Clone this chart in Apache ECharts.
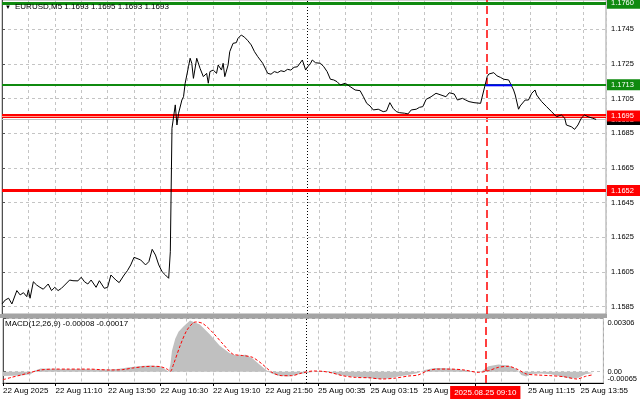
<!DOCTYPE html>
<html><head><meta charset="utf-8">
<script src="https://cdn.jsdelivr.net/npm/echarts@6/dist/echarts.min.js"></script>
<style>html,body{margin:0;padding:0;background:#fff}#c{width:640px;height:401px}</style>
</head><body><div id="c"></div>
<script>
// ---- data (bar index = M5 bar counted from 22 Aug 08:30) ----
const symbolName = 'EURUSD,M5';
const ohlc = [1.1693, 1.1695, 1.1693, 1.1693];

const priceBars = [0,2,4,6,9,11,13,15,16,17,19,21,23,25,28,30,32,34,36,38,41,43,46,48,50,52,54,57,59,62,64,66,69,71,74,76,78,80,84,87,89,91,93,95,97,99,101,102,103,105,106,107,109,110,111,113,114,115,116,118,120,122,124,125,126,128,130,131,133,134,135,137,138,140,142,143,145,147,149,151,153,155,156,158,161,163,165,167,169,171,173,175,177,179,182,184,185,187,188,190,193,195,197,199,201,203,205,208,211,214,217,219,221,223,225,228,231,233,235,237,239,241,244,246,248,251,253,255,257,260,263,266,269,271,274,276,279,281,283,286,290,292,294,295,296,298,300,302,304,307,308,310,311,313,314,317,319,321,323,324,327,330,333,336,339,341,342,345,347,349,351,353,355,358,360];
const priceValues = [1.15866,1.15889,1.15899,1.15866,1.15943,1.15918,1.15931,1.15908,1.15947,1.15899,1.15994,1.15975,1.15962,1.15951,1.15981,1.15943,1.15962,1.15943,1.15956,1.15975,1.16004,1.16000,1.15999,1.16020,1.15994,1.15981,1.16004,1.15962,1.16000,1.15956,1.15962,1.16033,1.16004,1.15989,1.16033,1.16058,1.16091,1.16135,1.16120,1.16091,1.16110,1.16181,1.16148,1.16091,1.16052,1.16033,1.16014,1.16167,1.16879,1.17014,1.16898,1.16966,1.17042,1.17061,1.17139,1.17234,1.17283,1.17254,1.17167,1.17283,1.17225,1.17177,1.17196,1.17139,1.17206,1.17215,1.17196,1.17244,1.17215,1.17254,1.17177,1.17244,1.17321,1.17369,1.17373,1.17398,1.17417,1.17404,1.17384,1.17360,1.17321,1.17292,1.17283,1.17254,1.17196,1.17191,1.17206,1.17200,1.17211,1.17206,1.17219,1.17215,1.17231,1.17234,1.17273,1.17215,1.17231,1.17254,1.17273,1.17257,1.17254,1.17234,1.17206,1.17162,1.17158,1.17148,1.17129,1.17139,1.17119,1.17100,1.17096,1.17061,1.17023,1.17008,1.16985,1.16989,1.16975,1.16979,1.17027,1.16994,1.16975,1.16969,1.16966,1.16962,1.16985,1.16989,1.17000,1.17004,1.17046,1.17061,1.17081,1.17071,1.17061,1.17084,1.17077,1.17042,1.17052,1.17042,1.17033,1.17027,1.17023,1.17100,1.17177,1.17192,1.17187,1.17200,1.17181,1.17173,1.17162,1.17158,1.17139,1.17100,1.17071,1.16989,1.17008,1.17042,1.17042,1.17081,1.17100,1.17071,1.17033,1.17004,1.16975,1.16946,1.16956,1.16937,1.16898,1.16888,1.16873,1.16898,1.16937,1.16956,1.16946,1.16937,1.16930];

const macdBars = [0,11,17,19,23,35,47,59,65,71,77,84,90,96,99,101,102,103,105,107,110,114,115,120,126,132,138,142,148,152,156,160,163,168,174,180,187,193,199,205,213,221,229,235,241,247,253,257,263,269,275,281,288,292,296,302,308,313,316,319,322,328,334,340,346,351,355,360];
const macdValues = [-0.00025,-0.00022,-0.00015,0.00005,0.00018,0.00015,0.00015,0.00012,0.00012,0.00017,0.00025,0.00033,0.00035,0.00030,0.00012,0.00000,0.00040,0.00120,0.00190,0.00230,0.00260,0.00295,0.00290,0.00272,0.00215,0.00151,0.00108,0.00093,0.00097,0.00077,0.00044,0.00012,-0.00008,-0.00023,-0.00027,-0.00015,-0.00004,0.00004,-0.00004,-0.00019,-0.00029,-0.00035,-0.00042,-0.00039,-0.00027,-0.00019,-0.00008,0.00010,0.00021,0.00021,0.00015,0.00010,0.00000,0.00004,0.00031,0.00041,0.00035,0.00015,-0.00019,-0.00027,-0.00013,-0.00010,-0.00015,-0.00027,-0.00039,-0.00035,-0.00015,-0.00008];

const signalBars = [0,5,11,17,23,31,39,47,53,59,65,73,79,86,92,96,100,102,104,108,112,116,118,122,128,134,140,146,152,158,164,170,176,182,189,195,201,207,215,223,231,239,247,253,259,265,273,281,290,296,302,308,314,319,326,334,342,350,355,360];
const signalValues = [-0.00046,-0.00033,-0.00019,-0.00004,0.00010,0.00015,0.00015,0.00015,0.00015,0.00012,0.00010,0.00012,0.00021,0.00029,0.00031,0.00029,0.00015,0.00002,0.00044,0.00150,0.00237,0.00282,0.00286,0.00276,0.00224,0.00160,0.00102,0.00093,0.00083,0.00044,-0.00004,-0.00023,-0.00023,-0.00008,0.00004,0.00002,-0.00008,-0.00023,-0.00033,-0.00035,-0.00042,-0.00037,-0.00025,-0.00019,0.00006,0.00015,0.00015,0.00010,-0.00004,0.00006,0.00025,0.00031,0.00012,-0.00013,-0.00019,-0.00023,-0.00029,-0.00042,-0.00027,-0.00017];

const timeTickBars = [0,32,64,96,128,160,192,224,256,288,320,352];
const timeTickLabels = ['22 Aug 2025','22 Aug 11:10','22 Aug 13:50','22 Aug 16:30','22 Aug 19:10','22 Aug 21:50','25 Aug 00:35','25 Aug 03:15','25 Aug 05:55','','25 Aug 11:15','25 Aug 13:55'];
const priceTicks = [1.1585,1.1605,1.1625,1.1645,1.1665,1.1685,1.1705,1.1725,1.1745];
const macdTicks = [0, 0.00306];
const macdTickLabels = ['0.00', '0.00306'];
const macdMinTick = -0.00065;
const macdMinLabel = '-0.00065';

const resistanceLevels = [1.1760, 1.1713];
const supportLevels = [1.1695, 1.1652];
const bidPrice = 1.1693;
const blueLineBars = [293, 309];
const blueLineValue = 1.17127;
const dayBreakBar = 185;
const eventBar = 294;
const eventLabel = '2025.08.25 09:10';

// ---- chart ----
const FONT = '"Liberation Sans", Arial, sans-serif';
const GREEN = '#0f8a0f', RED = '#ff0000';
const zip = (a, b) => a.map((x, i) => [x, b[i]]);
const levelLabel = (bg, txt) => ({show:true, position:'end', distance:1, formatter: txt,
  color:'#fff', backgroundColor:bg, padding:[2,8,1,4], fontSize:7.5, fontFamily:FONT});
const dashGrid = {show:true, lineStyle:{color:'#c4c4c4', type:[3,3], width:1}};

const vLines = (withLabel) => [
  {xAxis: dayBreakBar, lineStyle:{color:'#000', type:[1,2], width:1}, label:{show:false}},
  {xAxis: eventBar, lineStyle:{color:RED, type:[8,4], width:1.5},
   label: withLabel ? {show:true, position:'start', distance:3, formatter:eventLabel, color:'#fff',
     backgroundColor:RED, padding:[3,4,2,4], fontSize:8, fontFamily:FONT} : {show:false}}
];

const option = {
  animation:false,
  backgroundColor:'#fff',
  grid:[
    {left:2, right:34, top:0, height:314, show:true, borderColor:'#a0a0a0', borderWidth:1},
    {left:2, right:34, top:318.5, height:64.5, show:true, borderColor:'#a0a0a0', borderWidth:1}
  ],
  xAxis:[
    {type:'value', gridIndex:0, min:0, max:366, interval:16, position:'bottom',
     axisLine:{show:false}, axisTick:{show:false}, axisLabel:{show:false}, splitLine:dashGrid},
    {type:'value', gridIndex:1, min:0, max:366, interval:16, position:'bottom',
     axisLine:{show:true, onZero:false, lineStyle:{color:'#000'}}, axisTick:{show:false}, axisLabel:{show:false}, splitLine:dashGrid},
    {type:'value', gridIndex:1, min:0, max:366, position:'bottom',
     axisLine:{show:false, onZero:false},
     axisTick:{show:true, customValues:timeTickBars, length:3, lineStyle:{color:'#000'}},
     axisLabel:{show:true, customValues:timeTickBars, align:'left', margin:4, fontSize:8, fontFamily:FONT, color:'#000',
       showMinLabel:true, showMaxLabel:true,
       formatter: v => { const k = timeTickBars.indexOf(Math.round(v)); return k >= 0 ? timeTickLabels[k] : ''; }},
     splitLine:{show:false}}
  ],
  yAxis:[
    {type:'value', gridIndex:0, position:'right', min:1.15808, max:1.17619,
     axisLine:{show:true, lineStyle:{color:'#505050'}},
     axisTick:{show:true, customValues:priceTicks, length:3, lineStyle:{color:'#505050'}},
     axisLabel:{show:true, customValues:priceTicks, margin:5, fontSize:7.5, fontFamily:FONT, color:'#000',
       showMinLabel:true, showMaxLabel:true, formatter: v => v.toFixed(4)},
     splitLine:dashGrid},
    {type:'value', gridIndex:1, position:'right', min:macdMinTick, max:0.00306,
     axisLine:{show:true, lineStyle:{color:'#505050'}},
     axisTick:{show:true, customValues:macdTicks, length:3, lineStyle:{color:'#505050'}},
     axisLabel:{show:true, customValues:macdTicks, margin:4, fontSize:7.5, fontFamily:FONT, color:'#000',
       showMinLabel:true, showMaxLabel:true,
       formatter: v => Math.abs(v) < 1e-9 ? macdTickLabels[0] : '{t|' + macdTickLabels[1] + '}',
       rich:{t:{padding:[9,0,0,0], fontSize:7.5, fontFamily:FONT, color:'#000'}}},
     splitLine:dashGrid},
    {type:'value', gridIndex:1, position:'right', min:macdMinTick, max:0.00306,
     axisLine:{show:false},
     axisTick:{show:true, customValues:[macdMinTick], length:3, lineStyle:{color:'#505050'}},
     axisLabel:{show:true, customValues:[macdMinTick], margin:4, fontSize:7.5, fontFamily:FONT, color:'#000',
       showMinLabel:true, formatter: () => '{b|' + macdMinLabel + '}',
       rich:{b:{padding:[0,0,9,0], fontSize:7.5, fontFamily:FONT, color:'#000'}}},
     splitLine:{show:false}}
  ],
  graphic:[
    {type:'rect', shape:{x:0, y:314, width:607, height:4}, style:{fill:'#a4a4a4'}, z:100},
    {type:'text', left:5, top:4, style:{text:'▼', fontSize:6, fontFamily:FONT, fill:'#000'}, z:100},
    {type:'text', left:15, top:3, style:{text: symbolName + ' ' + ohlc.map(v => v.toFixed(4)).join(' '),
      fontSize:8, fontFamily:FONT, fill:'#000'}, z:100},
    {type:'text', left:5, top:320, style:{text:'MACD(12,26,9) ' + macdValues[macdValues.length-1].toFixed(5) + ' ' +
      signalValues[signalValues.length-1].toFixed(5), fontSize:8, fontFamily:FONT, fill:'#000'}, z:100}
  ],
  series:[
    {type:'line', xAxisIndex:0, yAxisIndex:0, data:zip(priceBars, priceValues), showSymbol:false,
     lineStyle:{color:'#000', width:1}, z:5,
     markLine:{silent:true, symbol:'none', animation:false, precision:6, data:[
       ...vLines(false),
       {yAxis:resistanceLevels[0], lineStyle:{color:GREEN, width:3, type:'solid'}, label:levelLabel(GREEN, resistanceLevels[0].toFixed(4))},
       {yAxis:resistanceLevels[1], lineStyle:{color:GREEN, width:2, type:'solid'}, label:levelLabel(GREEN, resistanceLevels[1].toFixed(4))},
       {yAxis:bidPrice, lineStyle:{color:'#c0c0c0', width:1, type:'solid'}, label:levelLabel('#000', bidPrice.toFixed(4))},
       {yAxis:supportLevels[0], lineStyle:{color:RED, width:4, type:'solid'}, label:levelLabel(RED, supportLevels[0].toFixed(4))},
       {yAxis:supportLevels[0], lineStyle:{color:'#ff9c8c', width:1, type:'solid'}, label:{show:false}},
       {yAxis:supportLevels[1], lineStyle:{color:RED, width:3, type:'solid'}, label:levelLabel(RED, supportLevels[1].toFixed(4))}
     ]}},
    {type:'line', xAxisIndex:0, yAxisIndex:0, data:blueLineBars.map(b => [b, blueLineValue]), showSymbol:false,
     lineStyle:{color:'#0000ff', width:2}, z:6},
    {type:'line', xAxisIndex:1, yAxisIndex:1, data:zip(macdBars, macdValues), showSymbol:false,
     lineStyle:{width:0, color:'#c0c0c0'}, itemStyle:{color:'#c0c0c0'}, areaStyle:{color:'#c0c0c0', opacity:1}, z:3},
    {type:'line', xAxisIndex:1, yAxisIndex:1, data:zip(signalBars, signalValues), showSymbol:false, smooth:0.3,
     lineStyle:{color:RED, width:1, type:[3,2]}, z:5,
     markLine:{silent:true, symbol:'none', animation:false, precision:6, data: vLines(true)}}
  ]
};
const chart = echarts.init(document.getElementById('c'));
chart.setOption(option);
</script>
</body></html>
